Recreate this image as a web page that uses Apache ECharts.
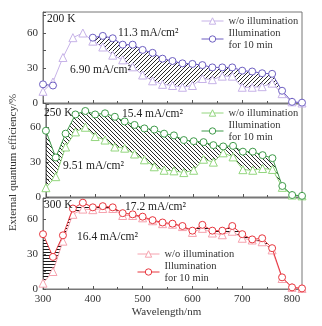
<!DOCTYPE html>
<html><head><meta charset="utf-8">
<script src="https://cdn.jsdelivr.net/npm/echarts@6/dist/echarts.min.js"></script>
<style>html,body{margin:0;padding:0;background:#fff}#c{width:322px;height:326px}</style>
</head><body><div id="c"></div>
<script>
// ---------- data ----------
const wavelength = [300,320,340,360,380,400,420,440,460,480,500,520,540,560,580,600,620,640,660,680,700,720,740,760,780,800,820];
const woIllum200K = [10,18,39,56,60,53,48,41,37,31,24,19,16,15,13.5,15,21,20,23,23,13.5,13.5,14,17,8,1,0];
const illum200K   = [16,15,null,null,null,56,57.5,55.5,50,50,45.5,43,38,36,34,33.5,32.5,30.5,30.5,30.5,27.7,27,25.5,25,10.5,1,0.3];
const woIllum250K = [8,17.5,43,56,60,52,49,43,42,37,32,26,23,22.5,21,23,32.5,30,38,34.5,23.5,23,24.5,23.7,8.3,1.7,1];
const illum250K   = [57,34,54.5,71,74,71,72,69,65,62,59,58,54.5,53,49,48,47.2,44.6,43.5,44,39,39,36,33.4,9.5,1.7,1];
const woIllum300K = [5,15,41,64,68.5,68,69,69,63,63,61,58.5,56,55.5,53.5,48.5,52,48,46.5,49.5,43.5,42,40.5,33.5,9,1.4,0.5];
const illum300K   = [47,27.5,46,69,74,70,71,70,65,64,62,59,57,56,54,50,55,50,50,54,47,42.5,43.5,35,10,1.4,0.5];
const temperatures = ['200 K','250 K','300 K'];
const jscWithout = ['6.90 mA/cm²','9.51 mA/cm²','16.4 mA/cm²'];
const jscWith    = ['11.3 mA/cm²','15.4 mA/cm²','17.2 mA/cm²'];
const yTickLabels = [0,30,60];
const xTickLabels = [300,400,500,600,700,800];
const woName = 'w/o illumination';
const ilName = 'Illumination for 10 min';
const yTitle = 'External quantum efficiency/%';
const xTitle = 'Wavelength/nm';

// ---------- styling / layout ----------
const FONT = 'Liberation Serif';
const panels = [
  {wo: woIllum200K, il: illum200K, light:'#c7b3e8', dark:'#6e5fc2', hatch:'/', top:12, height:91, max:78,
   legend:{left:201, top:15}, tLabel:[47,19], jIl:[118,33], jWo:[70,70]},
  {wo: woIllum250K, il: illum250K, light:'#93d67e', dark:'#3f9b4a', hatch:'\\', top:104, height:93, max:80,
   legend:{left:201, top:107}, tLabel:[44,113], jIl:[122,114], jWo:[63,166]},
  {wo: woIllum300K, il: illum300K, light:'#f6a2ae', dark:'#e8363e', hatch:'-', top:198, height:91, max:78,
   legend:{left:137, top:248}, tLabel:[44,205], jIl:[125,207], jWo:[77,237]}
];

function hatchPattern(kind){
  const c = document.createElement('canvas');
  const ctx = c.getContext('2d');
  if (kind === '-') {
    c.width = 4; c.height = 3;
    ctx.fillStyle = '#1a1a1a';
    ctx.fillRect(0,0,4,1);
    return c;
  }
  const s = 4; c.width = s; c.height = s;
  ctx.strokeStyle = '#111'; ctx.lineWidth = 0.9;
  const segs = kind === '/'
    ? [[0,s,s,0],[-1,1,1,-1],[s-1,s+1,s+1,s-1]]
    : [[0,0,s,s],[-1,s-1,1,s+1],[s-1,-1,s+1,1]];
  segs.forEach(([a,b,c2,d])=>{ctx.beginPath();ctx.moveTo(a,b);ctx.lineTo(c2,d);ctx.stroke();});
  return c;
}

const grids = [], xAxes = [], yAxes = [], series = [], legends = [], graphics = [];
panels.forEach((p, i) => {
  grids.push({left:43, right:20, top:p.top, height:p.height, show:true, borderColor:'#777', borderWidth:1, backgroundColor:'transparent'});
  xAxes.push({
    type:'value', gridIndex:i, min:300, max:820, interval:100,
    axisLine:{show:true, lineStyle:{color:'#777'}},
    axisTick:{show:true, inside:true, length:3, lineStyle:{color:'#555'}},
    minorTick:{show:true, splitNumber:2, length:2, lineStyle:{color:'#555'}},
    splitLine:{show:false},
    axisLabel:{show: i===2, margin:5, fontFamily:FONT, fontSize:11, color:'#333',
      formatter: v => xTickLabels.includes(v) ? String(v) : ''},
    name: i===2 ? xTitle : '', nameLocation:'middle', nameGap:18,
    nameTextStyle:{fontFamily:FONT, fontSize:11, color:'#333', padding:[0,12,0,0]}
  });
  yAxes.push({
    type:'value', gridIndex:i, min:0, max:p.max, interval:15,
    axisLine:{show:true, lineStyle:{color:'#777'}},
    axisTick:{show:true, inside:true, length:3, lineStyle:{color:'#555'}},
    splitLine:{show:false},
    axisLabel:{margin:5, fontFamily:FONT, fontSize:11, color:'#333',
      formatter: v => yTickLabels.includes(v) ? String(v) : ''},
    name: i===1 ? yTitle : '', nameLocation:'middle', nameGap:25,
    nameTextStyle:{fontFamily:FONT, fontSize:11, color:'#333', padding:[0,24,0,0]}
  });
  const pattern = hatchPattern(p.hatch);
  // hatched band between the two curves, drawn through the axes' coordinate system
  series.push({type:'custom', xAxisIndex:i, yAxisIndex:i, data:[[wavelength[0], 0]], silent:true, z:1,
    renderItem: (params, api) => {
      if (params.dataIndex !== 0) return;
      const children = [];
      let seg = [];
      const flush = () => {
        if (seg.length > 1) {
          const up = seg.map(k => api.coord([wavelength[k], p.il[k]]));
          const lo = seg.map(k => api.coord([wavelength[k], p.wo[k]])).reverse();
          children.push({type:'polygon', shape:{points: up.concat(lo)},
            style:{fill:{image:pattern, repeat:'repeat'}, stroke:null}});
        }
        seg = [];
      };
      wavelength.forEach((w,k) => {
        if (p.il[k] == null || p.wo[k] == null) flush(); else seg.push(k);
      });
      flush();
      return {type:'group', children};
    }});
  const pair = arr => wavelength.map((w,k)=>[w, arr[k]==null ? '-' : arr[k]]);
  series.push({type:'line', name: temperatures[i]+' '+woName, xAxisIndex:i, yAxisIndex:i, data:pair(p.wo),
    symbol:'triangle', symbolSize:8, lineStyle:{width:1, color:p.light},
    itemStyle:{color:'#fff', borderColor:p.light, borderWidth:1}, z:3});
  series.push({type:'line', name: temperatures[i]+' '+ilName, xAxisIndex:i, yAxisIndex:i, data:pair(p.il),
    symbol:'circle', symbolSize:7, lineStyle:{width:1, color:p.dark},
    itemStyle:{color:'#fff', borderColor:p.dark, borderWidth:1}, z:4});
  legends.push({
    orient:'vertical', left:p.legend.left, top:p.legend.top, itemWidth:22, itemHeight:8, itemGap:-6,
    padding:0, selectedMode:false,
    lineStyle:{width:1}, itemStyle:{borderWidth:1},
    textStyle:{fontFamily:FONT, fontSize:10.5, color:'#333', lineHeight:12},
    formatter: n => n.indexOf(ilName) >= 0 ? 'Illumination\nfor 10 min' : woName,
    data:[{name: temperatures[i]+' '+woName},
          {name: temperatures[i]+' '+ilName, textStyle:{padding:[12,0,0,0]}}]
  });
  const txt = (pos, s) => graphics.push({type:'text', left:pos[0], top:pos[1]-6,
    style:{text:s, font:'11.5px "'+FONT+'"', fill:'#222'}, z:10});
  txt(p.tLabel, temperatures[i]);
  txt(p.jIl, jscWith[i]);
  txt(p.jWo, jscWithout[i]);
});

const chart = echarts.init(document.getElementById('c'), null, {renderer:'canvas'});
chart.setOption({
  animation:false, backgroundColor:'#fff',
  grid:grids, xAxis:xAxes, yAxis:yAxes, series:series, legend:legends, graphic:graphics
});
</script></body></html>
